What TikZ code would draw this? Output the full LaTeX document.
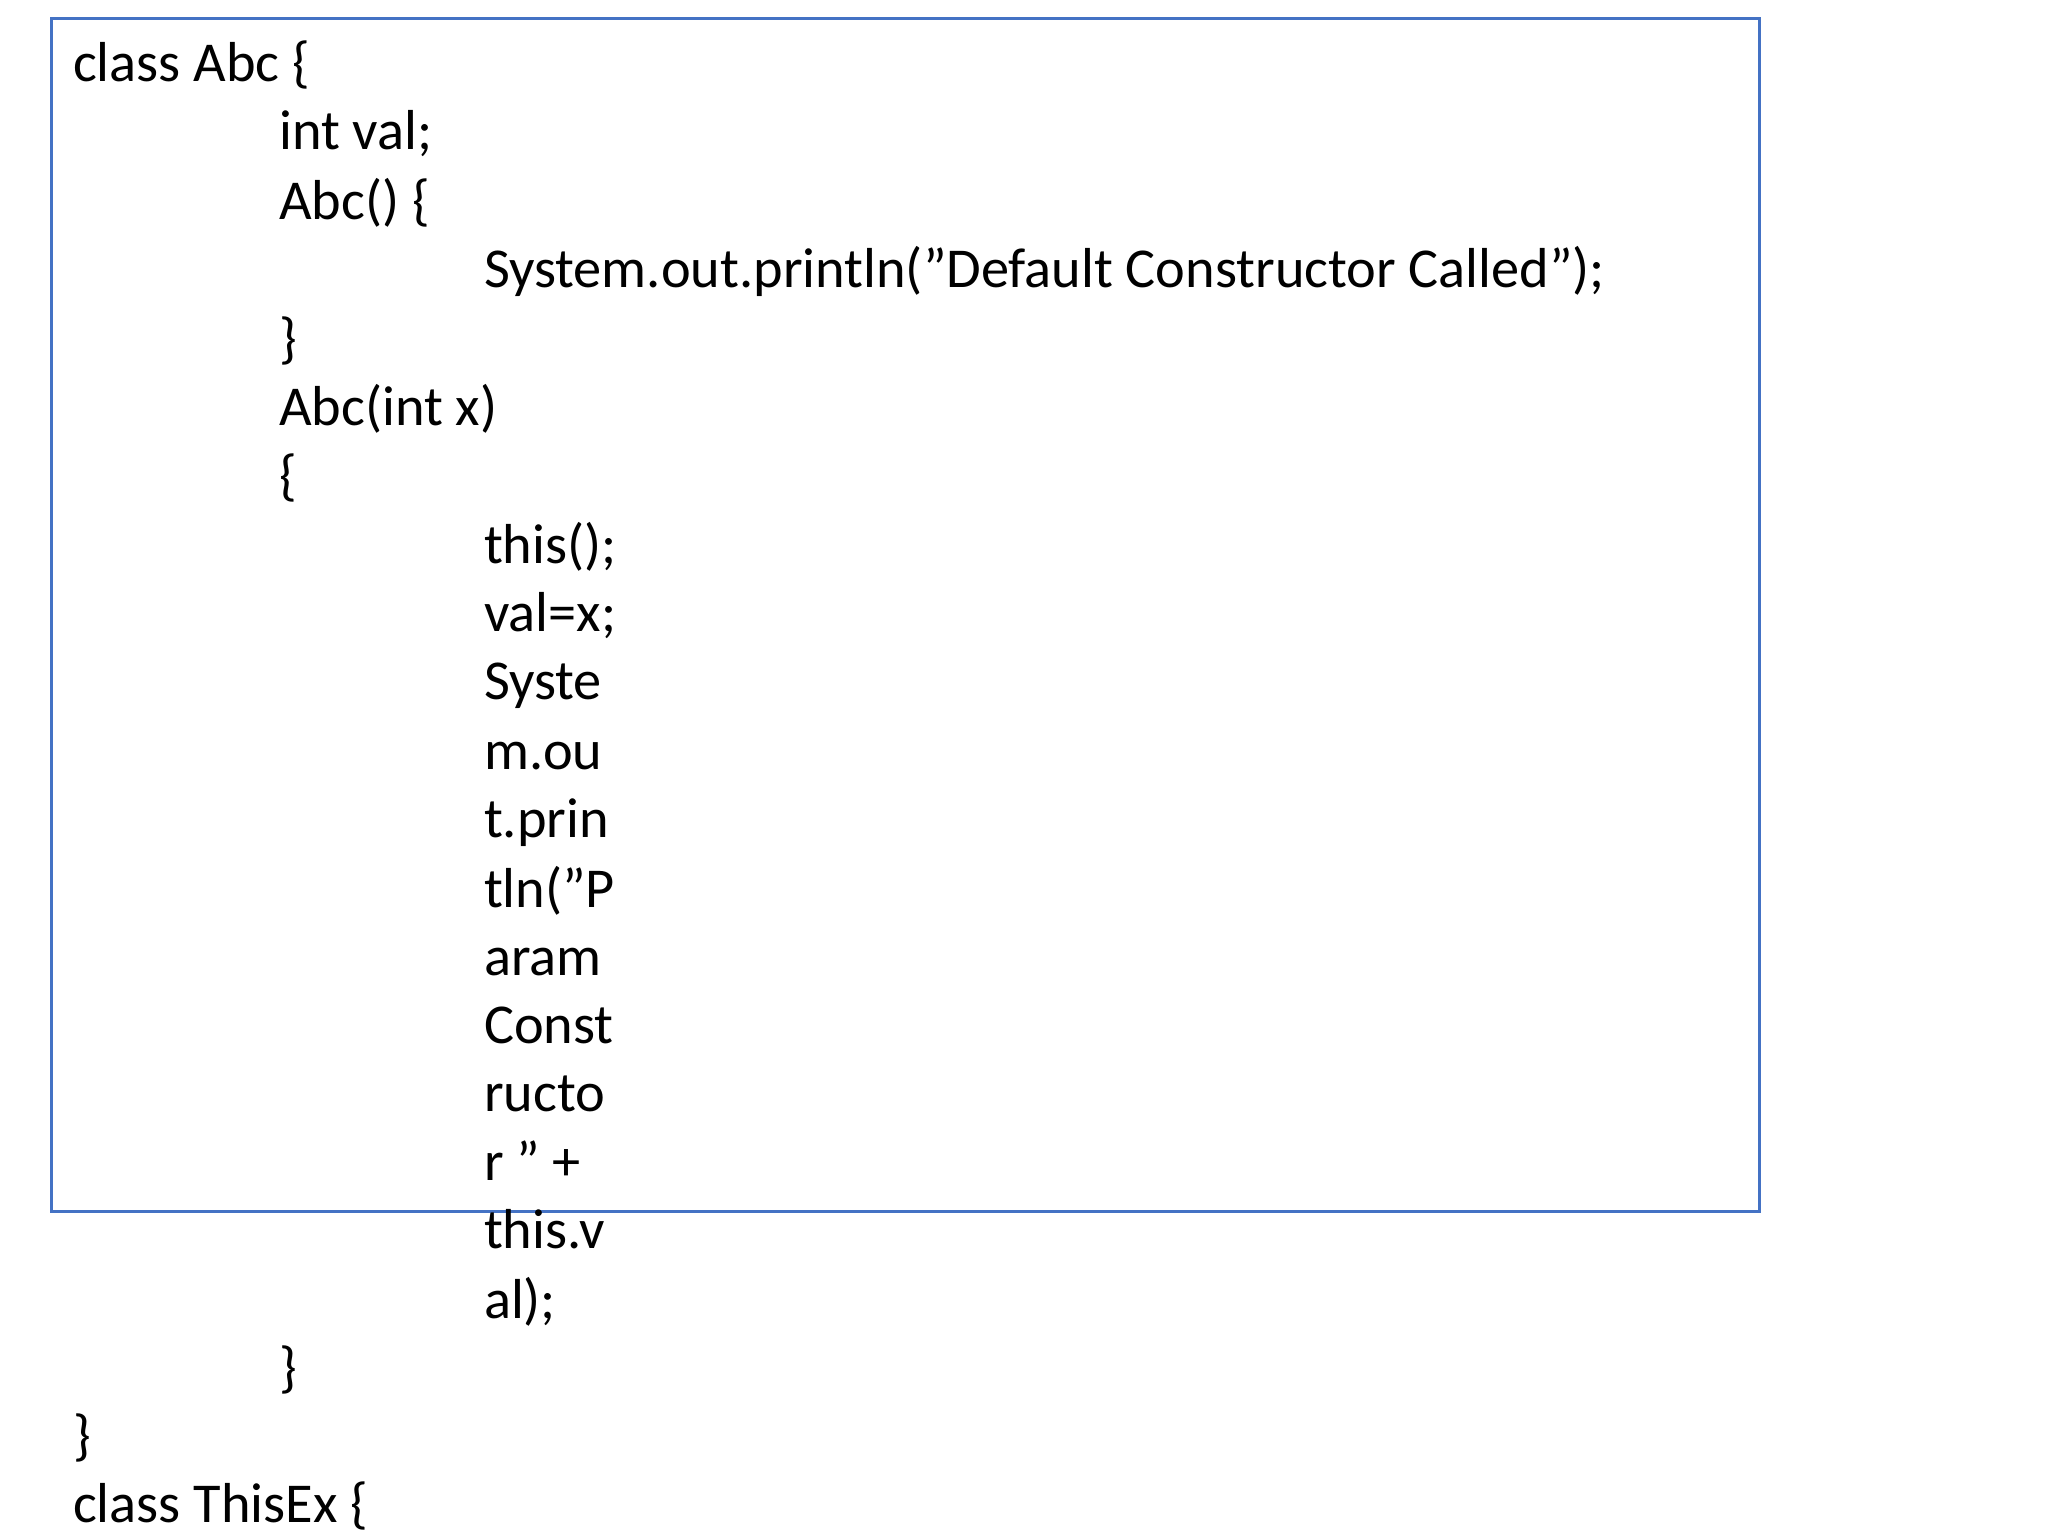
\documentclass[tikz,border=0pt]{standalone}
\usepackage{fontspec}
\setmainfont{Carlito}
\definecolor{framblue}{RGB}{68,114,196}
\newcommand{\dq}{\symbol{34}}
\tikzset{
  code/.style={anchor=base west, inner sep=0pt, font=\fontsize{12.2}{15}\selectfont},
  frame/.style={draw=framblue, line width=0.6pt}
}
\begin{document}
\begin{tikzpicture}[x=0.01cm,y=-0.01cm]
  \useasboundingbox (0,0) rectangle (1560,1170);

  % Frame
  \draw[frame] (39,14) rectangle (1340,923);

  % Code lines
  \node[code] (l1)  at (55,62)   {class Abc \{};
  \node[code] (l2)  at (212,114) {int val;};
  \node[code] (l3)  at (212,167) {Abc() \{};
  \node[code] (l4)  at (368,219) {System.out.println(\dq Default Constructor Called\dq);};
  \node[code] (l5)  at (212,272) {\}};
  \node[code] (l6)  at (212,324) {Abc(int x)};
  \node[code] (l7)  at (212,377) {\{};
  \node[code] (l8)  at (368,429) {this();};
  \node[code] (l9)  at (368,481) {val=x;};
  \node[code] (l10) at (368,533) {Syste};
  \node[code] (l11) at (368,586) {m.ou};
  \node[code] (l12) at (368,638) {t.prin};
  \node[code] (l13) at (368,691) {tln(\dq P};
  \node[code] (l14) at (368,743) {aram};
  \node[code] (l15) at (368,795) {Const};
  \node[code] (l16) at (368,847) {ructo};
  \node[code] (l17) at (368,899) {r \dq{} +};
  \node[code] (l18) at (368,951) {this.v};
  \node[code] (l19) at (368,1004) {al);};
  \node[code] (l20) at (212,1056) {\}};
  \node[code] (l21) at (55,1108) {\}};
  \node[code] (l22) at (55,1160) {class ThisEx \{};
\end{tikzpicture}
\end{document}
